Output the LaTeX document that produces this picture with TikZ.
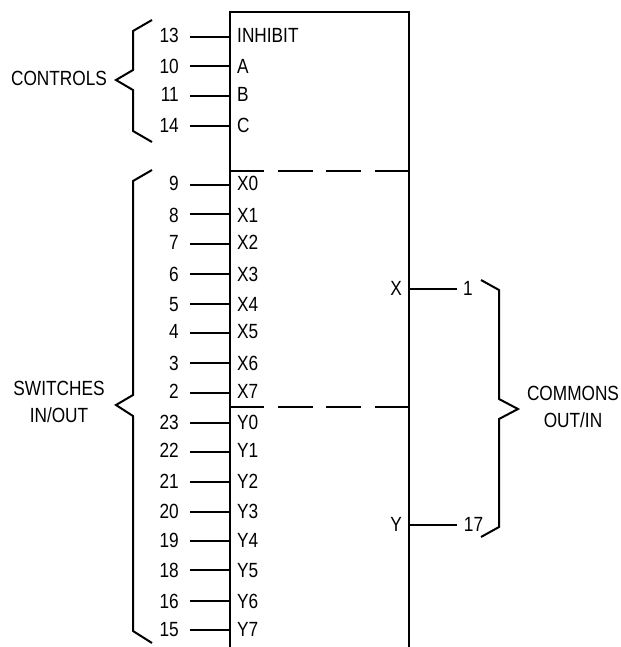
\documentclass[tikz,border=0pt]{standalone}
\usepackage{fontspec}
\setmainfont{Liberation Sans}
\begin{document}
\begin{tikzpicture}[x=0.75pt,y=-0.75pt,
  wire/.style={line width=1.5pt,line cap=butt,line join=miter},
  thin wire/.style={line width=1.5pt},
  txt/.style={inner sep=0pt,font=\fontsize{15.4pt}{17pt}\selectfont,xscale=0.84,yshift=-0.75pt,text=black},
  num/.style={txt,anchor=base east},
  lab/.style={txt,anchor=base west},
  mid/.style={txt,anchor=base,align=center}]
\useasboundingbox (0,0) rectangle (621,647);
\coordinate (tl) at (230,12);
\coordinate (tr) at (409,12);
\coordinate (bl) at (230,647);
\coordinate (br) at (409,647);
\draw[wire] (bl) -- (tl) -- (tr) -- (br);
\foreach \n/\l/\y/\t in {13/INHIBIT/37/41, 10/A/66/72, 11/B/96/100, 14/C/126/131,
  9/X0/185/189, 8/X1/214/221, 7/X2/244/248, 6/X3/274/280, 5/X4/304/310, 4/X5/333/337,
  3/X6/363/369, 2/X7/393/397, 23/Y0/423/428, 22/Y1/452/456, 21/Y2/482/487, 20/Y3/512/517,
  19/Y4/541/546, 18/Y5/570/576, 16/Y6/601/607, 15/Y7/630/635}{
  \coordinate (a\n) at (190,\y);
  \coordinate (b\n) at (230,\y);
  \draw[thin wire] (a\n) -- (b\n);
  \node[num] (n\n) at (179,\t) {\n};
  \node[lab] (l\n) at (237,\t) {\l};
}
% section dividers
\coordinate (d1l) at (230,171);
\coordinate (d1r) at (409,171);
\coordinate (d2l) at (230,407);
\coordinate (d2r) at (409,407);
\foreach \s in {1,2}{
  \draw[thin wire,dash pattern=on 25.5pt off 10.5pt on 26.25pt off 9.75pt on 26.25pt off 10.5pt on 25.5pt off 0pt] (d\s l) -- (d\s r);
}
% commons
\coordinate (xa) at (409,289);
\coordinate (xb) at (457,289);
\coordinate (ya) at (409,525);
\coordinate (yb) at (457,525);
\draw[thin wire] (xa) -- (xb);
\draw[thin wire] (ya) -- (yb);
\node[mid] (lx) at (396,294) {X};
\node[mid] (ly) at (396,530) {Y};
\node[mid] (n1) at (468,294) {1};
\node[mid] (n17) at (473.5,530) {17};
% braces
\draw[wire] (152,20) -- (133,31) -- (133,70) -- (116,80) -- (133,90) -- (133,131) -- (152,142);
\draw[wire] (152,170) -- (133,181) -- (133,395) -- (116,405) -- (133,416) -- (133,631) -- (152,643);
\draw[wire] (481,280) -- (499,290) -- (499,399) -- (518,409) -- (499,419) -- (499,527) -- (481,537);
\node[mid] (controls) at (59,84) {CONTROLS};
\node[mid] (sw) at (59,394) {SWITCHES};
\node[mid] (swb) at (59,421) {IN/OUT};
\node[mid] (co) at (573,399) {COMMONS};
\node[mid] (cob) at (573,426) {OUT/IN};
\end{tikzpicture}
\end{document}
